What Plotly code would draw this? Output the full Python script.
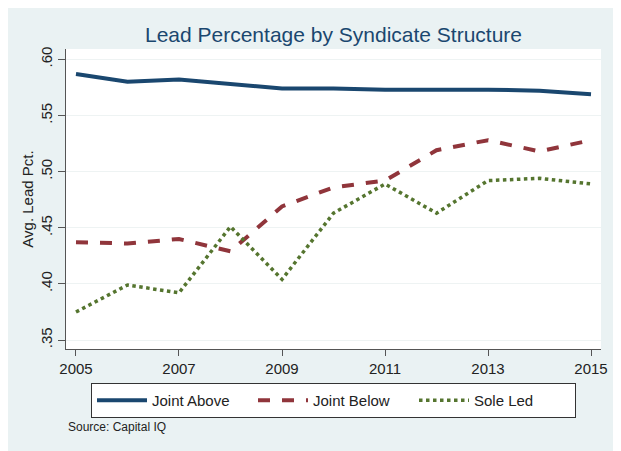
import plotly.graph_objects as go

years = [2005, 2006, 2007, 2008, 2009, 2010, 2011, 2012, 2013, 2014, 2015]
joint_above = [0.587, 0.580, 0.582, 0.578, 0.574, 0.574, 0.573, 0.573, 0.573, 0.572, 0.569]
joint_below = [0.437, 0.436, 0.440, 0.429, 0.469, 0.486, 0.492, 0.519, 0.528, 0.518, 0.528]
sole_led = [0.375, 0.399, 0.392, 0.451, 0.404, 0.463, 0.489, 0.463, 0.492, 0.494, 0.489]

y_ticks = [0.35, 0.40, 0.45, 0.50, 0.55, 0.60]
y_tick_labels = [".35", ".40", ".45", ".50", ".55", ".60"]
x_ticks = [2005, 2007, 2009, 2011, 2013, 2015]

BG = "#EAF2F3"
FONT = "Liberation Sans, Arial, sans-serif"

fig = go.Figure()
fig.add_trace(go.Scatter(x=years, y=joint_above, mode="lines", name="Joint Above",
                         line=dict(color="#1a476f", width=4)))
fig.add_trace(go.Scatter(x=years, y=joint_below, mode="lines", name="Joint Below",
                         line=dict(color="#90353b", width=4, dash="dash")))
fig.add_trace(go.Scatter(x=years, y=sole_led, mode="lines", name="Sole Led",
                         line=dict(color="#55752f", width=3.5, dash="dot")))

# page body keeps its 8px default margin, so the figure is sized to fit after it
fig.update_layout(
    width=613, height=443,
    margin=dict(l=58, r=20, t=41, b=102),
    paper_bgcolor=BG,
    plot_bgcolor="white",
    font=dict(family=FONT, size=15, color="#222222"),
    title=dict(text="Lead Percentage by Syndicate Structure", xref="paper", x=0.5,
               xanchor="center", y=1 - 27 / 443, yanchor="middle",
               font=dict(size=21, color="#1a476f", family=FONT)),
    xaxis=dict(range=[2004.806, 2015.194], tickmode="array", tickvals=x_ticks,
               showgrid=False, zeroline=False, showline=True, linecolor="#555555",
               linewidth=1, ticks="outside", ticklen=6, tickcolor="#555555",
               tickfont=dict(size=15)),
    yaxis=dict(range=[0.342, 0.6092], tickmode="array", tickvals=y_ticks,
               ticktext=y_tick_labels, tickangle=-90, showgrid=True,
               gridcolor="#EEF3F3", gridwidth=1, zeroline=False, showline=True,
               linecolor="#555555", linewidth=1, ticks="outside", ticklen=7,
               tickcolor="#555555", tickfont=dict(size=15),
               title=dict(text="Avg. Lead Pct.", font=dict(size=15), standoff=0)),
    legend=dict(orientation="h", x=0.5, xanchor="center", y=-0.113, yanchor="top",
                bgcolor="white", bordercolor="#333333", borderwidth=1,
                font=dict(size=15), entrywidth=96, itemwidth=50,
                tracegroupgap=0),
    annotations=[
        dict(text="Source: Capital IQ", xref="paper", yref="paper", x=0.0, y=-0.26,
             xanchor="left", yanchor="middle", showarrow=False,
             font=dict(size=12, color="#222222")),
    ],
)

fig.write_html("out.html")
